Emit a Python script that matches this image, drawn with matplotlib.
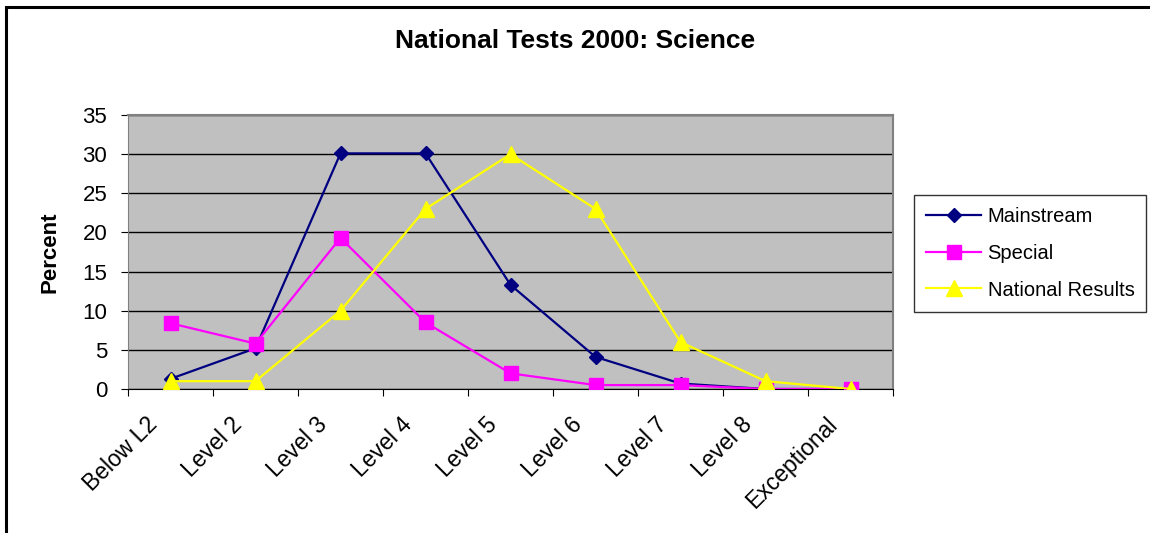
import matplotlib
matplotlib.use('Agg')
import matplotlib.pyplot as plt
from matplotlib.patches import Rectangle
from matplotlib.transforms import ScaledTranslation

plt.rcParams['font.family'] = ['Liberation Sans', 'DejaVu Sans']

levels = ['Below L2', 'Level 2', 'Level 3', 'Level 4', 'Level 5',
          'Level 6', 'Level 7', 'Level 8', 'Exceptional']
mainstream = [1.3, 5.2, 30.1, 30.1, 13.3, 4.1, 0.7, 0.0, 0.0]
special = [8.4, 5.8, 19.3, 8.5, 2.0, 0.5, 0.5, 0.0, 0.0]
national = [1.0, 1.0, 10.0, 23.0, 30.0, 23.0, 6.0, 1.0, 0.0]
yticks = [0, 5, 10, 15, 20, 25, 30, 35]

fig = plt.figure(figsize=(11.5, 5.33), dpi=100)
ax = fig.add_axes([128/1150, 1 - 389/533, (893-128)/1150, (389-115)/533])

# outer frame (cut off at right and bottom like the source)
fig.patches.append(Rectangle((6/1150, -0.1), 1.2, 1 - 7/533 + 0.1, transform=fig.transFigure,
                             fill=False, edgecolor='black', linewidth=2.2))

x = range(len(levels))
ax.set_facecolor('#C0C0C0')
ax.plot(x, mainstream, color='#000080', marker='D', markersize=7, linewidth=1.6, label='Mainstream', zorder=3)
ax.plot(x, special, color='#FF00FF', marker='s', markersize=9.5, linewidth=1.6, label='Special', zorder=4)
ax.plot(x, national, color='#FFFF00', marker='^', markersize=11, linewidth=1.6, label='National Results', zorder=5)

ax.set_xlim(-0.5, len(levels) - 0.5)
ax.set_ylim(0, 35)
ax.set_yticks(yticks)
ax.set_yticklabels([str(v) for v in yticks], fontsize=16)
ax.yaxis.grid(True, color='black', linewidth=1)
ax.set_axisbelow(True)

# category boundaries get the ticks, names sit under the centres
ax.set_xticks([i - 0.5 for i in range(len(levels) + 1)])
ax.set_xticklabels([])
ax.tick_params(axis='x', length=5, direction='out')
ax.tick_params(axis='y', length=5, direction='out', pad=10)
lab_tr = ax.get_xaxis_transform() + ScaledTranslation(-0.25, -0.24, fig.dpi_scale_trans)
for i, name in enumerate(levels):
    ax.text(i, 0, name, transform=lab_tr, rotation=45, ha='right', va='top',
            rotation_mode='anchor', fontsize=16.5, clip_on=False)

for s in ['top', 'right']:
    ax.spines[s].set_color('#808080')
    ax.spines[s].set_linewidth(1.5)
ax.spines['left'].set_color('#808080')
ax.spines['bottom'].set_color('black')

ax.set_ylabel('Percent', fontsize=16, fontweight='bold', labelpad=16)
fig.text(575/1150, 1 - 41/533, 'National Tests 2000: Science', fontsize=19,
         fontweight='bold', ha='center', va='center')

leg = ax.legend(loc='upper left', bbox_to_anchor=(914/1150, 1 - 195/533), bbox_transform=fig.transFigure,
                fontsize=14.5, frameon=True, fancybox=False, edgecolor='black',
                handlelength=2.75, handletextpad=0.3, borderpad=0.6, labelspacing=0.88,
                borderaxespad=0)
leg.get_frame().set_linewidth(1)

fig.savefig('out.png', dpi=100)
